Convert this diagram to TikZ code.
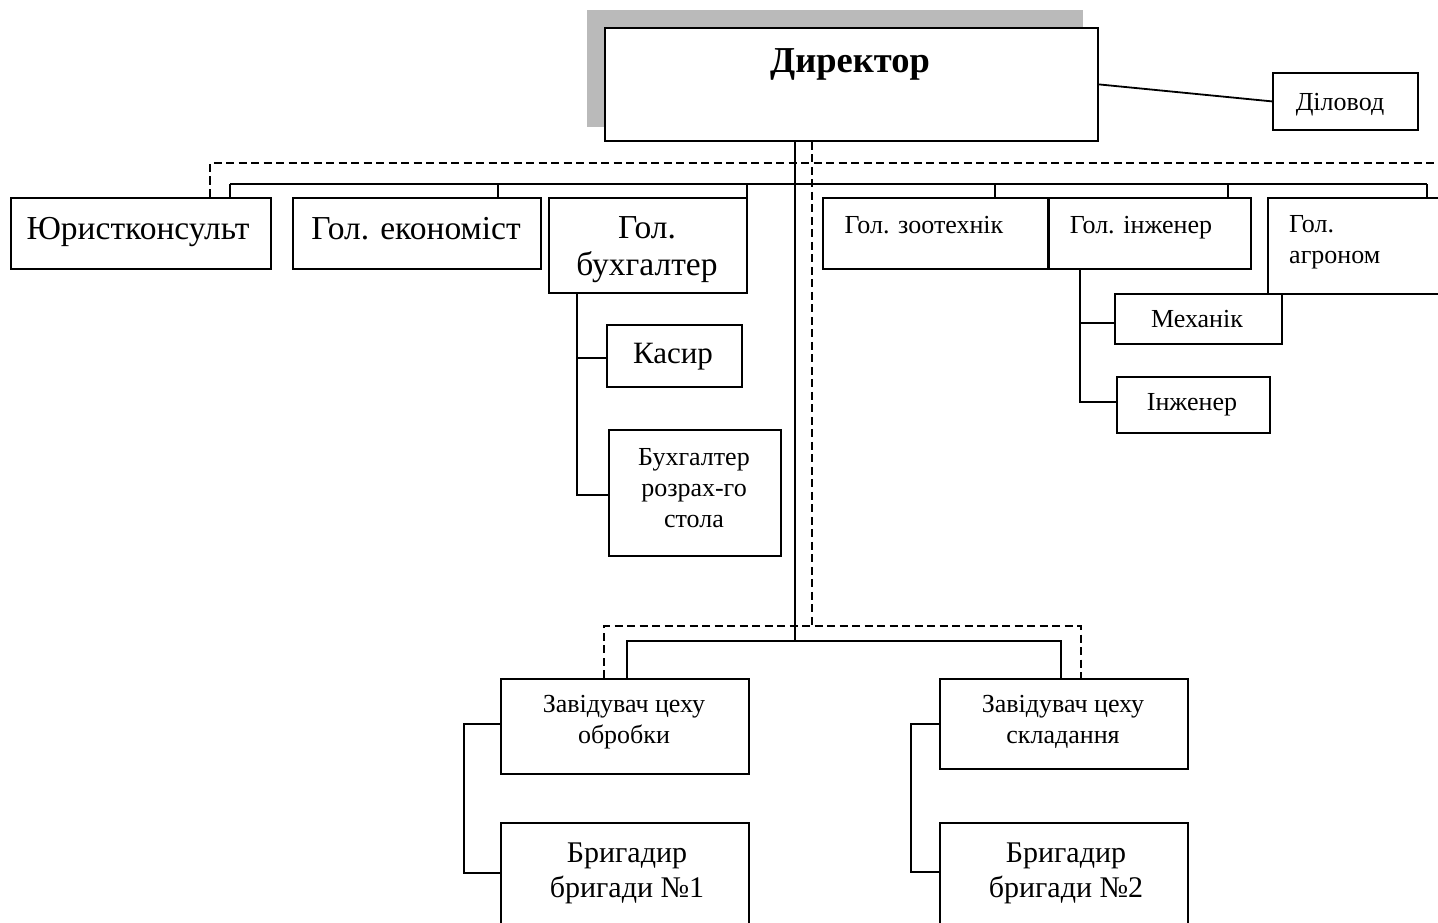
\documentclass[tikz,border=0pt]{standalone}
\usepackage{fontspec}
\setmainfont{Liberation Serif}
\newcommand\mlines[2]{\begin{tabular}[t]{@{}#1@{}}#2\end{tabular}}
\begin{document}
\begin{tikzpicture}[x=1pt,y=-1pt,
  box/.style={draw, line width=1.8pt, fill=white, inner sep=0pt, anchor=north west},
  conn/.style={line width=1.8pt},
  dconn/.style={line width=1.8pt, dash pattern=on 8pt off 4.5pt},
  lbl/.style={anchor=base, inner sep=0pt},
  big/.style={font=\fontsize{33.5}{37}\selectfont},
  brigf/.style={font=\fontsize{30}{35}\selectfont},
  mid/.style={font=\fontsize{26}{31}\selectfont},
  shadowbox/.style={fill=black!27, draw=none}]
\path[use as bounding box, clip] (0,0) rectangle (1438,923);
\fill[white] (0,0) rectangle (1438,923);

% shadow and director
\fill[shadowbox] (587,10) rectangle (1083,127);
\node[box, minimum width=493pt, minimum height=113pt] (dir) at (604,27) {};
\node[box, minimum width=145pt, minimum height=57pt] (dil) at (1272,72) {};

% top row
\node[box, minimum width=260pt, minimum height=71pt] (jur) at (10,197) {};
\node[box, minimum width=248pt, minimum height=71pt] (eco) at (292,197) {};
\node[box, minimum width=198pt, minimum height=95pt] (buh) at (548,197) {};
\node[box, minimum width=225pt, minimum height=71pt] (zoo) at (822,197) {};
\node[box, minimum width=202pt, minimum height=71pt] (eng) at (1048,197) {};
\node[box, minimum width=203pt, minimum height=96pt] (agr) at (1267,197) {};

% subordinates
\node[box, minimum width=135pt, minimum height=62pt] (kas) at (606,324) {};
\node[box, minimum width=172pt, minimum height=126pt] (bro) at (608,429) {};
\node[box, minimum width=167pt, minimum height=50pt] (mech) at (1114,293) {};
\node[box, minimum width=153pt, minimum height=56pt] (inzh) at (1116,376) {};

% bottom
\node[box, minimum width=248pt, minimum height=95pt] (zav1) at (500,678) {};
\node[box, minimum width=248pt, minimum height=90pt] (zav2) at (939,678) {};
\node[box, minimum width=248pt, minimum height=118pt] (brig1) at (500,822) {};
\node[box, minimum width=248pt, minimum height=118pt] (brig2) at (939,822) {};

% texts
\node[lbl, font=\fontsize{36.5}{40}\selectfont\bfseries] (t-dir) at (850,73) {Директор};
\node[lbl, mid] (t-dil) at (1340,111) {Діловод};
\node[lbl, big] (t-jur) at (138,239) {Юристконсульт};
\node[lbl, big] (t-eco) at (416,239) {Гол. економіст};
\node[lbl, big] (t-buh) at (647,238) {\mlines{c}{Гол.\\бухгалтер}};
\node[lbl, mid] (t-zoo) at (924,233) {Гол. зоотехнік};
\node[lbl, mid] (t-eng) at (1141,233) {Гол. інженер};
\node[lbl, mid, anchor=base west] (t-agr) at (1289,232) {\mlines{l}{Гол.\\агроном}};
\node[lbl, font=\fontsize{31}{36}\selectfont] (t-kas) at (673,363) {Касир};
\node[lbl, mid] (t-bro) at (694,465) {\mlines{c}{Бухгалтер\\розрах-го\\стола}};
\node[lbl, mid] (t-mech) at (1197,327) {Механік};
\node[lbl, mid] (t-inzh) at (1192,410) {Інженер};
\node[lbl, mid] (t-zav1) at (624,712) {\mlines{c}{Завідувач цеху\\обробки}};
\node[lbl, mid] (t-zav2) at (1063,712) {\mlines{c}{Завідувач цеху\\складання}};
\node[lbl, brigf] (t-brig1) at (627,862) {\mlines{c}{Бригадир\\бригади №1}};
\node[lbl, brigf] (t-brig2) at (1066,862) {\mlines{c}{Бригадир\\бригади №2}};

% junction coordinates
\coordinate (vs) at (dir.south -| 795,0);
\coordinate (vd) at (dir.south -| 812,0);
\coordinate (busB) at (795,641);
\coordinate (dashB) at (812,626);
\coordinate (dashR) at (1440,163);

% director to clerk
\draw[conn] (dir.east) -- (dil.west);

% solid lines
\draw[conn] (vs) -- (busB);
\draw[conn] (230,184) -- (1427,184);
\draw[conn] (230,184) -- (jur.north -| 230,0);
\draw[conn] (498,184) -- (eco.north -| 498,0);
\draw[conn] (747,184) -- (buh.north -| 747,0);
\draw[conn] (995,184) -- (zoo.north -| 995,0);
\draw[conn] (1228,184) -- (eng.north -| 1228,0);
\draw[conn] (1427,184) -- (agr.north -| 1427,0);
\draw[conn] (zav1.north -| 627,0) -- (627,641) -- (1061,641) -- (zav2.north -| 1061,0);

% dashed lines
\draw[dconn] (vd) -- (dashB);
\draw[dconn] (jur.north -| 210,0) -- (210,163) -- (dashR);
\draw[dconn] (zav1.north -| 604,0) -- (604,626) -- (1081,626) -- (zav2.north -| 1081,0);

% accountant subtree
\draw[conn] (buh.south -| 577,0) -- (577,495) -- (bro.west |- 0,495);
\draw[conn] (577,358) -- (kas.west |- 0,358);

% engineer subtree
\draw[conn] (eng.south -| 1080,0) -- (1080,402) -- (inzh.west |- 0,402);
\draw[conn] (1080,323) -- (mech.west |- 0,323);

% workshop brackets
\draw[conn] (zav1.west |- 0,724) -- (464,724) -- (464,873) -- (brig1.west |- 0,873);
\draw[conn] (zav2.west |- 0,724) -- (911,724) -- (911,872) -- (brig2.west |- 0,872);
\end{tikzpicture}
\end{document}
